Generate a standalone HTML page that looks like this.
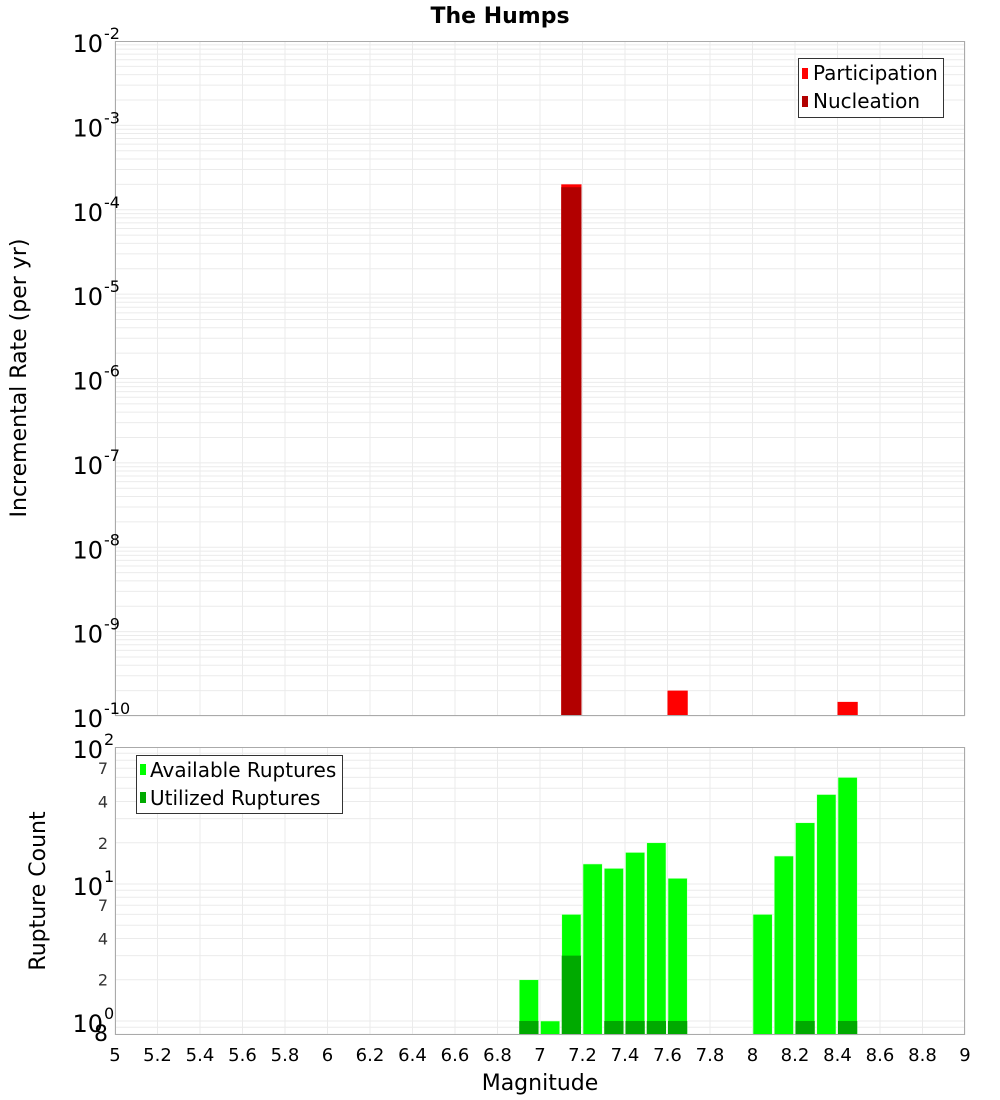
<!DOCTYPE html>
<html><head><meta charset="utf-8">
<style>
html,body{margin:0;padding:0;background:#fff;}
svg{display:block;font-family:"DejaVu Sans","Liberation Sans",sans-serif;}
</style></head>
<body>
<svg id="chart" width="1000" height="1100" xmlns="http://www.w3.org/2000/svg">
<text x="500" y="23" text-anchor="middle" font-size="22" font-weight="bold">The Humps</text>
<g id="topPanel"></g>
<g id="botPanel"></g>
<text transform="translate(26,378) rotate(-90)" text-anchor="middle" font-size="22">Incremental Rate (per yr)</text>
<text transform="translate(45,891) rotate(-90)" text-anchor="middle" font-size="22">Rupture Count</text>
<text x="540" y="1090" text-anchor="middle" font-size="22">Magnitude</text>
<g>
<rect x="798.5" y="58.5" width="145" height="59" fill="#fff" stroke="#333"/>
<rect x="802" y="68" width="6" height="11" fill="#ff0000"/>
<text x="813" y="80" font-size="20">Participation</text>
<rect x="802" y="96" width="6" height="11" fill="#b20000"/>
<text x="813" y="108" font-size="20">Nucleation</text>
</g>
<g>
<rect x="136.5" y="755.5" width="206" height="58" fill="#fff" stroke="#333"/>
<rect x="140" y="764" width="6" height="11" fill="#00ff00"/>
<text x="150" y="777" font-size="20">Available Ruptures</text>
<rect x="140" y="792" width="6" height="11" fill="#00aa00"/>
<text x="150" y="805" font-size="20">Utilized Ruptures</text>
</g>
</svg>
<script>
const rateMags = [7.15, 7.65, 8.45];
const participation = [2.0e-4, 2.0e-10, 1.47e-10];
const nucleation = [1.85e-4, 0, 0];
const countMags = [6.95, 7.05, 7.15, 7.25, 7.35, 7.45, 7.55, 7.65, 8.05, 8.15, 8.25, 8.35, 8.45];
const available = [2, 1, 6, 14, 13, 17, 20, 11, 6, 16, 28, 45, 60];
const utilized = [1, 0, 3, 0, 1, 1, 1, 1, 0, 0, 1, 0, 1];
const xTicks = ["5","5.2","5.4","5.6","5.8","6","6.2","6.4","6.6","6.8","7","7.2","7.4","7.6","7.8","8","8.2","8.4","8.6","8.8","9"];
const rateExps = [-10,-9,-8,-7,-6,-5,-4,-3,-2];
const countExps = [0,1,2];
const countMinor = [2,4,7];

const NS = "http://www.w3.org/2000/svg";
const L = 115, R = 965;
const xMin = 5, xMax = 9;
const X = v => L + (v - xMin) / (xMax - xMin) * (R - L);
const T0 = 41, T1 = 716, tMinE = -10, tMaxE = -2;
const YT = v => T1 - (Math.log10(v) - tMinE) / (tMaxE - tMinE) * (T1 - T0);
const B0 = 747, B1 = 1035, bMinE = Math.log10(0.79), bMaxE = 2;
const YB = v => B1 - (Math.log10(v) - bMinE) / (bMaxE - bMinE) * (B1 - B0);

function mk(parent, tag, attrs) {
  const e = document.createElementNS(NS, tag);
  for (const k in attrs) e.setAttribute(k, attrs[k]);
  parent.appendChild(e);
  return e;
}
const topG = document.getElementById('topPanel'), botG = document.getElementById('botPanel');

function panel(g, y0, y1, yf, eMin, eMax) {
  mk(g, 'rect', {x: L, y: y0, width: R - L, height: y1 - y0, fill: '#fff'});
  for (let e = Math.floor(eMin); e < eMax; e++) {
    for (let m = 1; m <= 9; m++) {
      const v = m * Math.pow(10, e);
      const y = yf(v);
      if (y < y0 || y > y1) continue;
      const ln = mk(g, 'line', {x1: L, x2: R, y1: y, y2: y, stroke: '#ebebeb', 'stroke-width': 1});
      
      
    }
  }
  xTicks.forEach(t => {
    const x = X(parseFloat(t));
    const ln = mk(g, 'line', {x1: x, x2: x, y1: y0, y2: y1, stroke: '#ebebeb', 'stroke-width': 1});
    
    
  });
}
panel(topG, T0, T1, YT, tMinE, tMaxE);
panel(botG, B0, B1, YB, -1, bMaxE);

const bw = 0.1 * (R - L) / (xMax - xMin);
rateMags.forEach((m, i) => {
  if (participation[i] > 0) {
    const y = YT(participation[i]);
    const r = mk(topG, 'rect', {x: X(m) - bw / 2, y: y, width: bw - 1, height: T1 - y, fill: '#ff0000'});
    
    
  }
  if (nucleation[i] > 0) {
    const y = YT(nucleation[i]);
    const r = mk(topG, 'rect', {x: X(m) - bw / 2, y: y, width: bw - 1, height: T1 - y, fill: '#b20000'});
    
    
  }
});
countMags.forEach((m, i) => {
  if (available[i] > 0) {
    const y = YB(available[i]);
    const r = mk(botG, 'rect', {x: X(m) - bw / 2 + 0.5, y: y, width: bw - 2, height: B1 - y, fill: '#00ff00', stroke: '#d8ffd8', 'stroke-width': 0.6});
    
    
  }
  if (utilized[i] > 0) {
    const y = YB(utilized[i]);
    const r = mk(botG, 'rect', {x: X(m) - bw / 2 + 0.5, y: y, width: bw - 2, height: B1 - y, fill: '#00aa00'});
    
    
  }
});

[[topG, T0, T1], [botG, B0, B1]].forEach(([g, a, b]) => {
  mk(g, 'rect', {x: L + 0.5, y: a + 0.5, width: R - L - 1, height: b - a - 1, fill: 'none', stroke: '#aaa'});
});

function decadeLabel(g, y, e, name) {
  const t = mk(g, 'text', {x: 103, y: y + 11, 'text-anchor': 'end', 'font-size': 24});
  t.textContent = '10';
  
  
  const s = mk(g, 'text', {x: 104, y: y - 2, 'text-anchor': 'start', 'font-size': 16});
  s.textContent = String(e);
  
  
}
rateExps.forEach(e => decadeLabel(topG, YT(Math.pow(10, e)), e, 'rate-tick-label'));
countExps.forEach(e => decadeLabel(botG, YB(Math.pow(10, e)), e, 'count-tick-label'));
[0, 1].forEach(e => countMinor.forEach(m => {
  const y = YB(m * Math.pow(10, e));
  const t = mk(botG, 'text', {x: 108, y: y + 6, 'text-anchor': 'end', 'font-size': 16, fill: '#333'});
  t.textContent = String(m);
  
  
}));
{
  const t = mk(botG, 'text', {x: 108, y: 1041, 'text-anchor': 'end', 'font-size': 22});
  t.textContent = '8';
  
  
}
xTicks.forEach(t => {
  const el = mk(botG, 'text', {x: X(parseFloat(t)), y: 1061, 'text-anchor': 'middle', 'font-size': 18});
  el.textContent = t;
  
  
});
</script>
</body></html>
